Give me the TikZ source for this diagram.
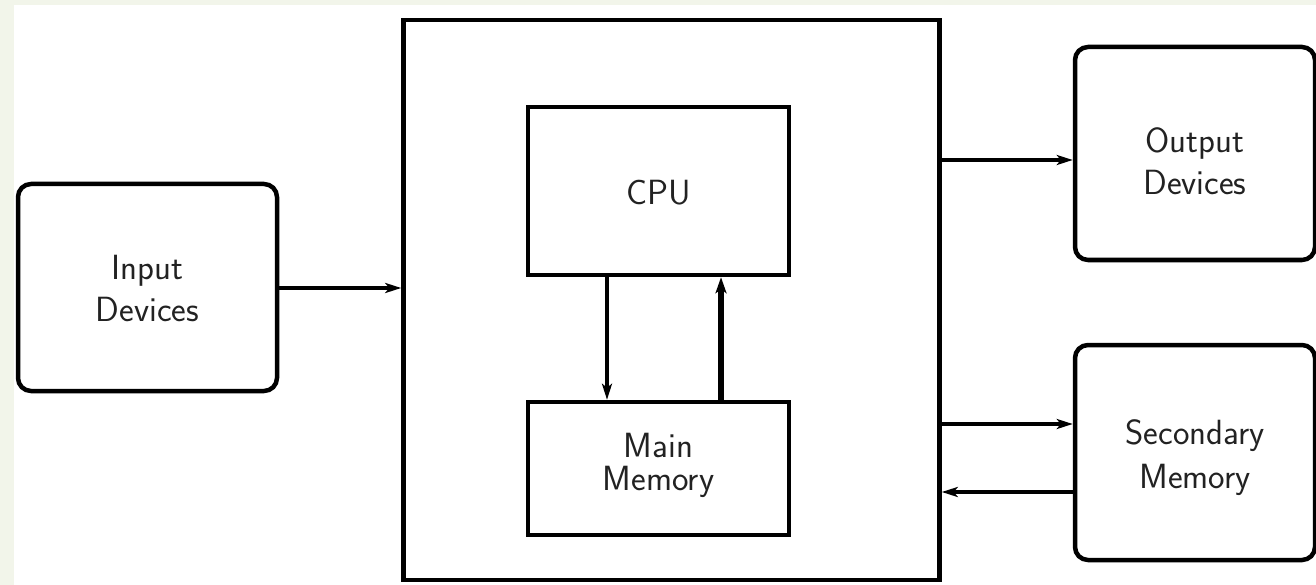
\documentclass[tikz,border=0pt]{standalone}
\usetikzlibrary{arrows.meta}
\definecolor{bgstrip}{HTML}{F2F5EA}
\definecolor{txt}{HTML}{222222}
\begin{document}
\begin{tikzpicture}[x={(1pt,0)},y={(0,-1pt)},
  box/.style={draw=black,line width=4.5pt,fill=white,inner sep=0pt},
  rbox/.style={box,rounded corners=13pt},
  lbl/.style={inner sep=0pt,align=center,text=txt,font=\sffamily\fontsize{35}{#1}\selectfont},
  lbl/.default=42,
  arr/.style={line width=4pt,-{Stealth[length=16pt,width=10pt,inset=4pt]}},
  arrthick/.style={line width=6pt,-{Stealth[length=16pt,width=11pt,inset=4pt]}}]
\useasboundingbox (0,0) rectangle (1316,585);
\fill[bgstrip] (0,0) rectangle (1316,585);
\fill[white] (14,5) rectangle (1316,585);
\node[rbox,minimum width=259pt,minimum height=207pt] (input) at (147.5,287.5) {};
\node[box,minimum width=536pt,minimum height=560pt] (big) at (671.5,300) {};
\node[box,minimum width=261pt,minimum height=168pt] (cpu) at (658.5,191) {};
\node[box,minimum width=261pt,minimum height=133pt] (mem) at (658.5,468.5) {};
\node[rbox,minimum width=240pt,minimum height=213pt] (out) at (1195,153.5) {};
\node[rbox,minimum width=240pt,minimum height=215pt] (sec) at (1195,452.5) {};
\node[lbl=42,yshift=-1pt] (inputtxt) at (input.center) {Input\\Devices};
\node[lbl=42,yshift=-2pt] (cputxt) at (cpu.center) {CPU};
\node[lbl=33,yshift=3.5pt] (memtxt) at (mem.center) {Main\\Memory};
\node[lbl=42,yshift=-8pt] (outtxt) at (out.center) {Output\\Devices};
\node[lbl=44,yshift=-5.5pt] (sectxt) at (sec.center) {Secondary\\Memory};
\draw[arr] (input.east |- 0,288) -- (big.west |- 0,288);
\draw[arr] (big.east |- 0,160) -- (out.west |- 0,160);
\draw[arr] (big.east |- 0,424) -- (sec.west |- 0,424);
\draw[arr] (sec.west |- 0,492) -- (big.east |- 0,492);
\draw[arr] (cpu.south -| 607,0) -- (mem.north -| 607,0);
\draw[arrthick] (mem.north -| 721,0) -- (cpu.south -| 721,0);
\end{tikzpicture}
\end{document}
